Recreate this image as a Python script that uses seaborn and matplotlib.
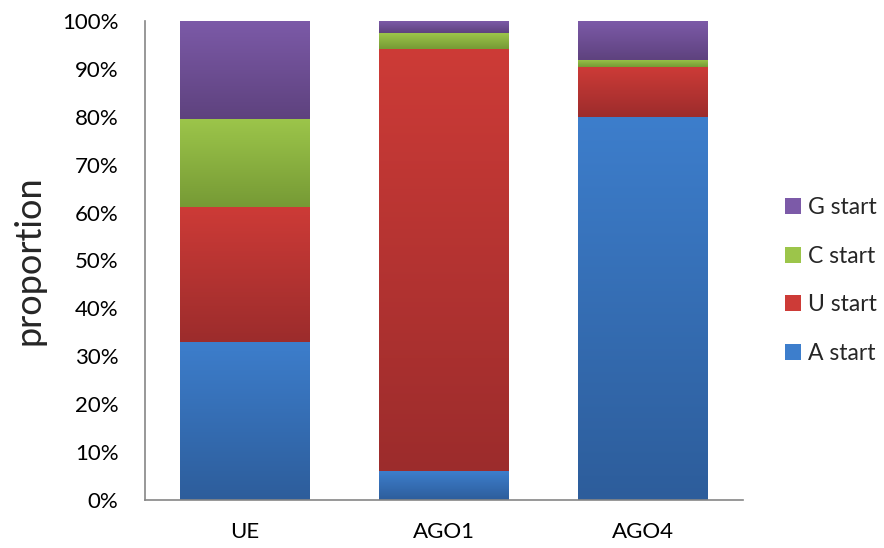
import numpy as np
import pandas as pd
import matplotlib
matplotlib.use("Agg")
import matplotlib.pyplot as plt
from matplotlib.colors import LinearSegmentedColormap
from matplotlib.patches import Patch
import seaborn as sns

categories = ["UE", "AGO1", "AGO4"]
a_start = [33.0, 6.0, 80.0]
u_start = [28.2, 88.2, 10.4]
c_start = [18.3, 3.3, 1.5]
g_start = [20.5, 2.5, 8.1]
series_names = ["A start", "U start", "C start", "G start"]
yticks = [0, 10, 20, 30, 40, 50, 60, 70, 80, 90, 100]

grad = {
    "A start": ("#3D7ECC", "#2D5D9B"),
    "U start": ("#CD3B37", "#9C2C2C"),
    "C start": ("#9CC54A", "#769A35"),
    "G start": ("#7C5AA8", "#5E427E"),
}

sns.set_theme(style="white")
plt.rcParams["font.family"] = ["Lato", "DejaVu Sans"]

values = {"A start": a_start, "U start": u_start, "C start": c_start, "G start": g_start}
cum = {}
run = np.zeros(len(categories))
for s in series_names:
    run = run + np.array(values[s])
    cum[s] = run.copy()
bottoms = {}
prev = np.zeros(len(categories))
for s in series_names:
    bottoms[s] = prev.copy()
    prev = cum[s]

fig = plt.figure(figsize=(8.84, 5.48), dpi=100)
ax = fig.add_axes([0.164, 0.0876, 0.676, 0.8741])

order = list(reversed(series_names))
for i, s in enumerate(order):
    df = pd.DataFrame({"cat": categories, "val": cum[s]})
    n_before = len(ax.patches)
    sns.barplot(data=df, x="cat", y="val", color=grad[s][0], width=0.65,
                ax=ax, zorder=2 + 2 * i, linewidth=0, saturation=1)
    new_patches = ax.patches[n_before:]
    cmap = LinearSegmentedColormap.from_list(s, [grad[s][1], grad[s][0]])
    for j, p in enumerate(new_patches):
        x0 = p.get_x()
        w = p.get_width()
        top = p.get_height()
        bot = bottoms[s][j]
        g = np.linspace(0, 1, 256).reshape(-1, 1)
        im = ax.imshow(g, cmap=cmap, origin="lower", aspect="auto",
                       extent=[x0, x0 + w, bot, top], zorder=2 + 2 * i + 1,
                       interpolation="bilinear")
        im.set_clip_path(p)

ax.set_xlim(-0.5, 2.5)
ax.set_ylim(0, 100)
ax.set_yticks(yticks)
ax.set_yticklabels([f"{t}%" for t in yticks], fontsize=16, color="#000000")
ax.tick_params(axis="x", labelsize=16, pad=16, length=0, colors="#000000")
ax.tick_params(axis="y", length=0, pad=19)
ax.set_xlabel("")
ax.set_ylabel("proportion", fontsize=26, labelpad=12)
for sp in ["top", "right"]:
    ax.spines[sp].set_visible(False)
for sp in ["left", "bottom"]:
    ax.spines[sp].set_color("#868686")
    ax.spines[sp].set_linewidth(1.2)
ax.spines["bottom"].set_zorder(20)

handles = [Patch(facecolor=grad[s][0], edgecolor="none") for s in order]
fig.legend(handles, order, loc="center left", bbox_to_anchor=(0.888, 0.488),
           frameon=False, fontsize=16.5, handlelength=0.7, handleheight=0.7,
           handletextpad=0.3, labelspacing=1.2, borderpad=0, borderaxespad=0)

fig.savefig("out.png", dpi=100)
